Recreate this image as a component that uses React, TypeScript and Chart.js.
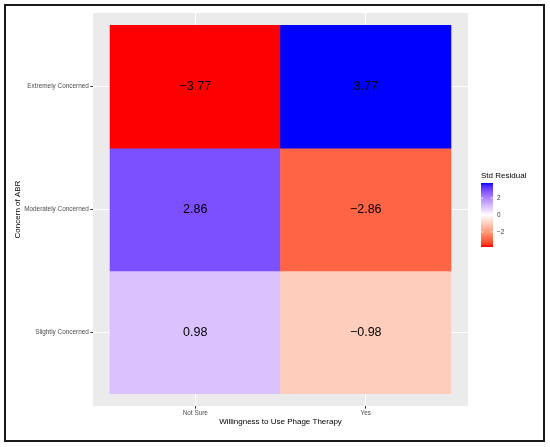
import React, { useRef, useEffect } from 'react';
import { Chart, registerables } from 'chart.js';

Chart.register(...registerables);

const willingness = ['Not Sure', 'Yes'];
const concernLevels = ['Slightly Concerned', 'Moderately Concerned', 'Extremely Concerned'];
const notSureResiduals = [0.98, 2.86, -3.77];
const yesResiduals = [-0.98, -2.86, 3.77];
const legendTicks = [-2, 0, 2];

const FONT = 'Liberation Sans, Arial, Helvetica, sans-serif';
const limit = Math.max(...notSureResiduals.map(Math.abs), ...yesResiduals.map(Math.abs));

// --- Lab interpolation, like ggplot's scale_fill_gradient2 ---
const toLinear = (c: number) => {
    c /= 255;
    return c <= 0.04045 ? c / 12.92 : Math.pow((c + 0.055) / 1.055, 2.4);
};
const fromLinear = (c: number) => {
    const v = c <= 0.0031308 ? 12.92 * c : 1.055 * Math.pow(c, 1 / 2.4) - 0.055;
    return Math.round(Math.min(1, Math.max(0, v)) * 255);
};
const rgbToLab = ([r, g, b]: number[]) => {
    const R = toLinear(r), G = toLinear(g), B = toLinear(b);
    const x = (0.4124 * R + 0.3576 * G + 0.1805 * B) / 0.95047;
    const y = 0.2126 * R + 0.7152 * G + 0.0722 * B;
    const z = (0.0193 * R + 0.1192 * G + 0.9505 * B) / 1.08883;
    const f = (t: number) => (t > 0.008856 ? Math.cbrt(t) : 7.787 * t + 16 / 116);
    const fx = f(x), fy = f(y), fz = f(z);
    return [116 * fy - 16, 500 * (fx - fy), 200 * (fy - fz)];
};
const labToRgb = ([L, a, b]: number[]) => {
    const fy = (L + 16) / 116;
    const fx = fy + a / 500;
    const fz = fy - b / 200;
    const inv = (t: number) => (t * t * t > 0.008856 ? t * t * t : (t - 16 / 116) / 7.787);
    const x = inv(fx) * 0.95047, y = inv(fy), z = inv(fz) * 1.08883;
    return [
        fromLinear(3.2406 * x - 1.5372 * y - 0.4986 * z),
        fromLinear(-0.9689 * x + 1.8758 * y + 0.0415 * z),
        fromLinear(0.0557 * x - 0.204 * y + 1.057 * z),
    ];
};
const whiteLab = rgbToLab([255, 255, 255]);
const redLab = rgbToLab([255, 0, 0]);
const blueLab = rgbToLab([0, 0, 255]);

const fillColor = (v: number) => {
    const t = Math.max(-1, Math.min(1, v / limit));
    const end = t < 0 ? redLab : blueLab;
    const k = Math.abs(t);
    const lab = whiteLab.map((w, i) => w + (end[i] - w) * k);
    const [r, g, b] = labToRgb(lab);
    return `rgb(${r}, ${g}, ${b})`;
};

const fmt = (v: number) => (v < 0 ? '\u2212' : '') + Math.abs(v).toFixed(2);

const cells = concernLevels.flatMap((_, r) => [
    { x: 1, y: [r + 0.5, r + 1.5], v: notSureResiduals[r] },
    { x: 2, y: [r + 0.5, r + 1.5], v: yesResiduals[r] },
]);

const heatmapPlugin = {
    id: 'heatmapExtras',
    beforeDraw(chart: any) {
        const { ctx, chartArea } = chart;
        ctx.save();
        ctx.fillStyle = '#EBEBEB';
        ctx.fillRect(chartArea.left, chartArea.top, chartArea.right - chartArea.left, chartArea.bottom - chartArea.top);
        ctx.restore();
    },
    afterDatasetsDraw(chart: any) {
        const { ctx } = chart;
        const meta = chart.getDatasetMeta(0);
        ctx.save();
        ctx.fillStyle = '#000';
        ctx.font = `12.5px ${FONT}`;
        ctx.textAlign = 'center';
        ctx.textBaseline = 'middle';
        meta.data.forEach((bar: any, i: number) => {
            const c = bar.getCenterPoint();
            ctx.fillText(fmt(cells[i].v), c.x, c.y);
        });
        ctx.restore();
    },
    afterDraw(chart: any) {
        const { ctx } = chart;
        const left = 481, right = 493, top = 183, bottom = 247;
        ctx.save();
        ctx.fillStyle = '#000';
        ctx.font = `8px ${FONT}`;
        ctx.textAlign = 'left';
        ctx.textBaseline = 'middle';
        ctx.fillText('Std Residual', 481, 176);

        const grad = ctx.createLinearGradient(0, bottom, 0, top);
        for (let i = 0; i <= 20; i++) {
            grad.addColorStop(i / 20, fillColor(-limit + (2 * limit * i) / 20));
        }
        ctx.fillStyle = grad;
        ctx.fillRect(left, top, right - left, bottom - top);

        ctx.font = `6.4px ${FONT}`;
        ctx.fillStyle = '#333';
        ctx.strokeStyle = '#fff';
        ctx.lineWidth = 0.8;
        legendTicks.forEach((v) => {
            const y = bottom - ((v + limit) / (2 * limit)) * (bottom - top);
            ctx.beginPath();
            ctx.moveTo(left, y);
            ctx.lineTo(left + 2.4, y);
            ctx.moveTo(right - 2.4, y);
            ctx.lineTo(right, y);
            ctx.stroke();
            ctx.fillText(v < 0 ? '\u2212' + Math.abs(v) : String(v), 497, y);
        });
        ctx.restore();
    },
};

export default function App() {
    const canvasRef = useRef<HTMLCanvasElement>(null);

    useEffect(() => {
        document.body.style.margin = '0';
        if (!canvasRef.current) return;
        const chart = new Chart(canvasRef.current, {
            type: 'bar',
            data: {
                datasets: [{
                    data: cells as any,
                    backgroundColor: cells.map((c) => fillColor(c.v)),
                    borderWidth: 0,
                    barPercentage: 1,
                    categoryPercentage: 1,
                }],
            },
            options: {
                animation: false,
                responsive: true,
                maintainAspectRatio: false,
                layout: { padding: { top: 13, right: 82, left: 0, bottom: 0 } },
                scales: {
                    x: {
                        type: 'linear',
                        min: 0.4,
                        max: 2.6,
                        offset: false,
                        afterBuildTicks: (scale: any) => {
                            scale.ticks = willingness.map((_, i) => ({ value: i + 1 }));
                        },
                        afterFit: (scale: any) => { scale.height = 41; },
                        grid: { color: '#FFFFFF', lineWidth: 1, offset: false, tickColor: '#333', tickLength: 2.7 },
                        border: { display: false },
                        ticks: {
                            autoSkip: false,
                            maxRotation: 0,
                            padding: 0.5,
                            color: '#4D4D4D',
                            font: { family: FONT, size: 6.4 },
                            callback: (_v: any, i: number) => willingness[i],
                        },
                        title: {
                            display: true,
                            text: 'Willingness to Use Phage Therapy',
                            color: '#000',
                            font: { family: FONT, size: 8 },
                            padding: { top: 0, bottom: 20.5 },
                        },
                    },
                    y: {
                        type: 'linear',
                        min: 0.4,
                        max: 3.6,
                        offset: false,
                        afterBuildTicks: (scale: any) => {
                            scale.ticks = concernLevels.map((_, i) => ({ value: i + 1 }));
                        },
                        afterFit: (scale: any) => { scale.width = 93; },
                        grid: { color: '#FFFFFF', lineWidth: 1, offset: false, tickColor: '#333', tickLength: 2.7 },
                        border: { display: false },
                        ticks: {
                            autoSkip: false,
                            padding: 1.5,
                            color: '#4D4D4D',
                            font: { family: FONT, size: 6.4 },
                            callback: (_v: any, i: number) => concernLevels[i],
                        },
                        title: {
                            display: true,
                            text: 'Concern of ABR',
                            color: '#000',
                            font: { family: FONT, size: 8 },
                            padding: { top: 13.2, bottom: 0 },
                        },
                    },
                },
                plugins: {
                    legend: { display: false },
                    tooltip: { enabled: false },
                },
            },
            plugins: [heatmapPlugin],
        });
        return () => chart.destroy();
    }, []);

    return (
        <div style={{ position: 'relative', width: 550, height: 447, background: '#fff' }}>
            <canvas ref={canvasRef}></canvas>
            <div
                style={{
                    position: 'absolute',
                    left: 4,
                    top: 4,
                    width: 541,
                    height: 438,
                    border: '2px solid #1a1a1a',
                    boxSizing: 'border-box',
                    pointerEvents: 'none',
                }}
            />
        </div>
    );
}
